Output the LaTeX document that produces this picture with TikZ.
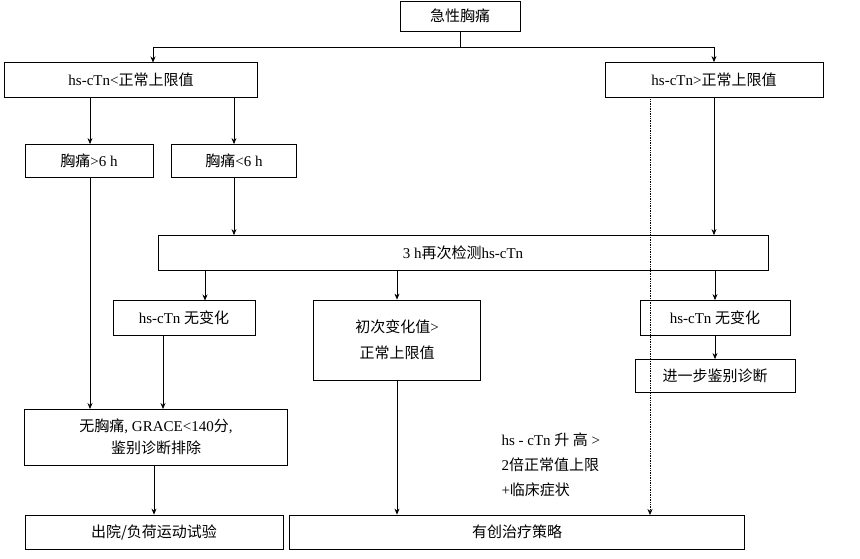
\documentclass[tikz,border=0pt]{standalone}
\usepackage{fontspec}
\setmainfont{Liberation Serif}
\newfontfamily\cjk{Noto Sans CJK SC}
\newcommand{\C}[1]{{\cjk #1}}
\usetikzlibrary{arrows.meta}
\begin{document}
\begin{tikzpicture}[x=1pt,y=-1pt,
 bx/.style={draw,thick,line width=0.8pt,inner sep=0pt,font=\fontsize{15}{20}\selectfont,align=center},
 ar/.style={-{Stealth[length=6pt,width=5pt]},line width=0.7pt},
 every node/.style={anchor=center}]
\useasboundingbox (0,0) rectangle (860,559);
\node[bx,minimum width=120,minimum height=30] (top) at (460,16) {\C{急性胸痛}};
\node[bx,minimum width=253,minimum height=35] (L) at (131,80) {hs-cTn<\C{正常上限值}};
\node[bx,minimum width=218,minimum height=35] (R) at (714,80) {hs-cTn>\C{正常上限值}};
\node[bx,minimum width=128,minimum height=33] (g6) at (89,161) {\C{胸痛}>6 h};
\node[bx,minimum width=125,minimum height=33] (l6) at (234,161) {\C{胸痛}<6 h};
\node[bx,minimum width=610,minimum height=35] (h3) at (463,253) {3 h\C{再次检测}hs-cTn};
\node[bx,minimum width=142,minimum height=35] (n1) at (184,318) {hs-cTn \C{无变化}};
\node[bx,minimum width=167,minimum height=80] (fc) at (397,340) {\C{初次变化值}>\\[6pt]\C{正常上限值}};
\node[bx,minimum width=150,minimum height=35] (n2) at (715,318) {hs-cTn \C{无变化}};
\node[bx,minimum width=160,minimum height=33] (jb) at (715,376) {\C{进一步鉴别诊断}};
\node[bx,minimum width=263,minimum height=56] (wx) at (156,437) {\C{无胸痛}, GRACE<140\C{分},\\[2pt]\C{鉴别诊断排除}};
\node[bx,minimum width=258,minimum height=34] (cy) at (154,532) {\C{出院/负荷运动试验}};
\node[bx,minimum width=455,minimum height=34] (yc) at (517,532) {\C{有创治疗策略}};
\node[font=\fontsize{15}{20}\selectfont,align=left,anchor=west] (tx) at (498,465) {hs - cTn \C{升 高} >\\[5pt]2\C{倍正常值上限}\\[5pt]+\C{临床症状}};
\coordinate (tj) at (460,47);
\draw[line width=0.7pt] (top.south) -- (tj);
\draw[ar] (tj) -| (153,62.5);
\draw[ar] (tj) -| (R.north);
\draw[ar] (90,97.5) -- (g6.north -| 90,0);
\draw[ar] (234,97.5) -- (l6.north);
\draw[ar] (l6.south) -- (l6.south |- h3.north);
\draw[ar] (R.south) -- (R.south |- h3.north);
\draw[ar] (205,270.5) -- (205,300.5);
\draw[ar] (h3.south -| fc.north) -- (fc.north);
\draw[ar] (h3.south -| n2.north) -- (n2.north);
\draw[ar] (n2.south) -- (jb.north);
\draw[ar] (90,177.5) -- (90,409);
\draw[ar] (163,335.5) -- (163,409);
\draw[ar] (wx.south -| cy.north) -- (cy.north);
\draw[ar] (fc.south) -- (fc.south |- yc.north);
\draw[ar,densely dotted,line width=0.6pt] (650,97.5) -- (650,515);
\end{tikzpicture}
\end{document}
